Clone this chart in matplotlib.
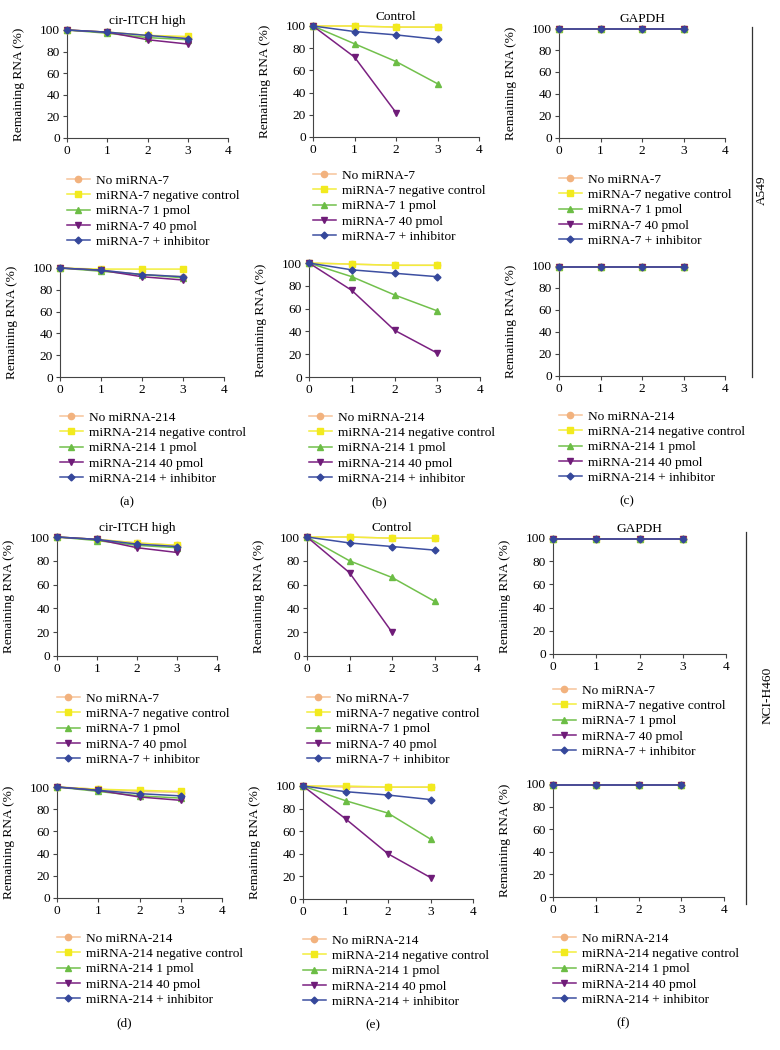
import numpy as np
import matplotlib
matplotlib.use("Agg")
import matplotlib.pyplot as plt
from matplotlib.lines import Line2D

plt.rcParams["font.family"] = ["Liberation Serif", "DejaVu Serif"]

FIG_W, FIG_H = 780, 1050
nan = np.nan

days = [0, 1, 2, 3]
x_ticks = [0, 1, 2, 3, 4]
y_ticks = [0, 20, 40, 60, 80, 100]

# order of series: none, negative control, 1 pmol, 40 pmol, + inhibitor
a549_itch_mir7 = [
    [100, 98, 95, 93],
    [100, 98, 95, 94],
    [100, 97, 93, 91],
    [100, 98, 91, 87],
    [100, 98, 95, 92],
]
a549_ctrl_mir7 = [
    [100, 100, 99, 99],
    [100, 100, 99, 99],
    [100, 84, 68, 48],
    [100, 72, 22, nan],
    [100, 95, 92, 88],
]
a549_gapdh_mir7 = [
    [99, 99, 99, 99],
    [99, 99, 99, 99],
    [99, 99, 99, 99],
    [99, 99, 99, 99],
    [99, 99, 99, 99],
]
a549_itch_mir214 = [
    [100, 98, 94, 92],
    [100, 99, 99, 99],
    [100, 97, 94, 91],
    [100, 98, 92, 89],
    [100, 98, 94, 92],
]
a549_ctrl_mir214 = [
    [100, 99, 98, 98],
    [100, 99, 98, 98],
    [100, 88, 72, 58],
    [100, 76, 41, 21],
    [100, 94, 91, 88],
]
a549_gapdh_mir214 = [
    [99, 99, 99, 99],
    [99, 99, 99, 99],
    [99, 99, 99, 99],
    [99, 99, 99, 99],
    [99, 99, 99, 99],
]
h460_itch_mir7 = [
    [100, 98, 95, 93],
    [100, 98, 95, 93],
    [100, 97, 93, 91],
    [100, 98, 91, 87],
    [100, 98, 94, 92],
]
h460_ctrl_mir7 = [
    [100, 100, 99, 99],
    [100, 100, 99, 99],
    [100, 80, 66, 46],
    [100, 70, 20, nan],
    [100, 95, 92, 89],
]
h460_gapdh_mir7 = [
    [99, 99, 99, 99],
    [99, 99, 99, 99],
    [99, 99, 99, 99],
    [99, 99, 99, 99],
    [99, 99, 99, 99],
]
h460_itch_mir214 = [
    [100, 98, 96, 95],
    [100, 98, 97, 96],
    [100, 96, 92, 90],
    [100, 97, 91, 88],
    [100, 97, 94, 92],
]
h460_ctrl_mir214 = [
    [100, 99, 99, 99],
    [100, 100, 99, 99],
    [100, 87, 76, 53],
    [100, 71, 40, 19],
    [100, 95, 92, 88],
]
h460_gapdh_mir214 = [
    [99, 99, 99, 99],
    [99, 99, 99, 99],
    [99, 99, 99, 99],
    [99, 99, 99, 99],
    [99, 99, 99, 99],
]

label_templates = ["No {m}", "{m} negative control", "{m} 1 pmol", "{m} 40 pmol", "{m} + inhibitor"]
line_colors = ["#f6c39a", "#f2ee3c", "#72c04c", "#7b2181", "#3d4fa1"]
marker_colors = ["#f2b27e", "#f2ea1e", "#6cbd45", "#6f1c78", "#35479b"]
markers = ["o", "s", "^", "v", "D"]
marker_sizes = [4.5, 4.5, 5, 5, 3.5]

# (data, mirna, title, panel letter, x0, x4, y100, y0, legend first row y)
panels = [
    (a549_itch_mir7, "miRNA-7", "cir-ITCH high", None, 67, 228, 30, 138, 182),
    (a549_ctrl_mir7, "miRNA-7", "Control", None, 313, 479, 26, 137, 177),
    (a549_gapdh_mir7, "miRNA-7", "GAPDH", None, 559, 725, 28, 138, 181),
    (a549_itch_mir214, "miRNA-214", None, "(a)", 60, 224, 268, 377, 419),
    (a549_ctrl_mir214, "miRNA-214", None, "(b)", 309, 480, 263, 377, 419),
    (a549_gapdh_mir214, "miRNA-214", None, "(c)", 559, 725, 266, 376, 418),
    (h460_itch_mir7, "miRNA-7", "cir-ITCH high", None, 57, 217, 537, 656, 700),
    (h460_ctrl_mir7, "miRNA-7", "Control", None, 307, 477, 537, 656, 700),
    (h460_gapdh_mir7, "miRNA-7", "GAPDH", None, 553, 726, 538, 654, 692),
    (h460_itch_mir214, "miRNA-214", None, "(d)", 57, 222, 787, 898, 940),
    (h460_ctrl_mir214, "miRNA-214", None, "(e)", 303, 473, 786, 899, 942),
    (h460_gapdh_mir214, "miRNA-214", None, "(f)", 553, 724, 784, 897, 940),
]

FS = 9.6

fig = plt.figure(figsize=(FIG_W / 100, FIG_H / 100), dpi=100)


def fx(px):
    return px / FIG_W


def fy(py):
    return 1 - py / FIG_H


for data, mirna, title, letter, x0, x4, y100, y0, leg_y in panels:
    ax = fig.add_axes([fx(x0), fy(y0), (x4 - x0) / FIG_W, (y0 - y100) / FIG_H])
    handles = []
    for i, series in enumerate(data):
        (line,) = ax.plot(
            days, series,
            color=line_colors[i], linewidth=1.1,
            marker=markers[i], markersize=marker_sizes[i],
            markerfacecolor=marker_colors[i], markeredgecolor=marker_colors[i],
            clip_on=False, zorder=3 + i,
        )
        handles.append(line)
    ax.set_xlim(0, 4)
    ax.set_ylim(0, 100)
    ax.set_xticks(x_ticks)
    ax.set_yticks(y_ticks)
    for side in ("top", "right"):
        ax.spines[side].set_visible(False)
    for side in ("left", "bottom"):
        ax.spines[side].set_color("#444444")
        ax.spines[side].set_linewidth(0.8)
    ax.tick_params(direction="out", length=3, width=0.8, color="#444444",
                   labelsize=FS, pad=2)
    ax.set_ylabel("Remaining RNA (%)", fontsize=FS)
    ax.yaxis.set_label_coords(-42 / (x4 - x0), 0.5)
    if title:
        ax.set_title(title, fontsize=FS, pad=4)
    labels = [t.format(m=mirna) for t in label_templates]
    ax.legend(
        handles, labels,
        loc="upper left", bbox_to_anchor=(fx(x0), fy(leg_y - 7.5)),
        bbox_transform=fig.transFigure, frameon=False,
        borderpad=0, borderaxespad=0, handlelength=1.7, handletextpad=0.5,
        labelspacing=0.22, fontsize=FS, numpoints=1,
    )
    if letter:
        fig.text(fx((x0 + x4) / 2 - 15), fy(leg_y + 83), letter,
                 fontsize=FS, ha="center", va="center")

# cell line brackets on the right
fig.add_artist(Line2D([fx(752), fx(752)], [fy(27), fy(377)], color="#333333", linewidth=0.9))
fig.text(fx(762), fy(190), "A549", rotation=90, fontsize=FS, ha="center", va="center")
fig.add_artist(Line2D([fx(746), fx(746)], [fy(532), fy(904)], color="#333333", linewidth=0.9))
fig.text(fx(768), fy(695), "NCI-H460", rotation=90, fontsize=FS, ha="center", va="center")

fig.savefig("out.png", dpi=100)
